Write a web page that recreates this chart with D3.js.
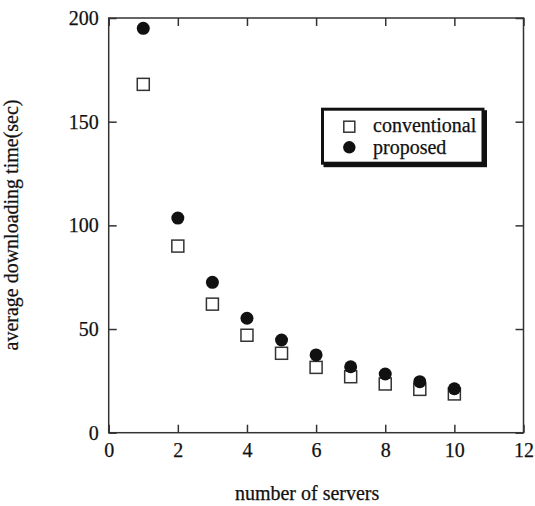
<!DOCTYPE html>
<html>
<head>
<meta charset="utf-8">
<script src="https://cdn.jsdelivr.net/npm/d3@7/dist/d3.min.js"></script>
<style>
  html, body { margin: 0; padding: 0; background: #fff; }
  svg { display: block; }
  text { font-family: "Liberation Serif", "Times New Roman", serif; fill: #111; stroke: #111; stroke-width: 0.25px; }
</style>
</head>
<body>
<script>
// Average downloading time versus number of servers
const servers = [1, 2, 3, 4, 5, 6, 7, 8, 9, 10];
const conventional = [168, 90, 62, 47, 38.3, 31.5, 27, 23.5, 20.9, 18.7];
const proposed = [195, 103.5, 72.5, 55.2, 44.7, 37.5, 31.8, 28.3, 24.6, 21.2];
const xTicks = [0, 2, 4, 6, 8, 10, 12];
const yTicks = [0, 50, 100, 150, 200];
const seriesNames = ["conventional", "proposed"];

const W = 535, H = 506;
const plot = { left: 108.7, right: 523.5, top: 18, bottom: 432.7 };

const svg = d3.select("body").append("svg").attr("width", W).attr("height", H);

const x = d3.scaleLinear().domain([0, 12]).range([plot.left, plot.right]);
const y = d3.scaleLinear().domain([0, 200]).range([plot.bottom, plot.top]);

const axisColor = "#333";
const tickLen = 8;

// Frame with inward ticks on all four sides
function styleAxis(g) {
  g.select(".domain").remove();
  g.selectAll(".tick line").attr("stroke", axisColor).attr("stroke-width", 1.5);
  g.selectAll(".tick text").style("font-size", "20px").attr("fill", "#111");
}

svg.append("g").attr("transform", `translate(0,${plot.bottom})`)
  .call(d3.axisBottom(x).tickValues(xTicks).tickFormat(d3.format("d")).tickSizeInner(-tickLen).tickSizeOuter(0).tickPadding(10))
  .call(styleAxis)
  .call(g => g.selectAll(".tick text").attr("dy", "0.71em"));

svg.append("g").attr("transform", `translate(0,${plot.top})`)
  .call(d3.axisTop(x).tickValues(xTicks).tickSizeInner(-tickLen).tickSizeOuter(0).tickFormat(""))
  .call(styleAxis);

svg.append("g").attr("transform", `translate(${plot.left},0)`)
  .call(d3.axisLeft(y).tickValues(yTicks).tickFormat(d3.format("d")).tickSizeInner(-tickLen).tickSizeOuter(0).tickPadding(10))
  .call(styleAxis);

svg.append("g").attr("transform", `translate(${plot.right},0)`)
  .call(d3.axisRight(y).tickValues(yTicks).tickSizeInner(-tickLen).tickSizeOuter(0).tickFormat(""))
  .call(styleAxis);

svg.append("rect")
  .attr("x", plot.left).attr("y", plot.top)
  .attr("width", plot.right - plot.left).attr("height", plot.bottom - plot.top)
  .attr("fill", "none").attr("stroke", axisColor).attr("stroke-width", 1.5);

// Axis titles
svg.append("text")
  .attr("x", (plot.left + plot.right) / 2 - 9).attr("y", 500)
  .attr("text-anchor", "middle").style("font-size", "20px")
  .text("number of servers");

svg.append("text")
  .attr("transform", `translate(18,225) rotate(-90)`)
  .attr("text-anchor", "middle").style("font-size", "20px")
  .text("average downloading time(sec)");

// Markers
const sq = 12, r = 6.5;
const data = servers.map((s, i) => ({ s, c: conventional[i], p: proposed[i] }));

svg.append("g").selectAll("rect").data(data).join("rect")
  .attr("x", d => x(d.s) - sq / 2).attr("y", d => y(d.c) - sq / 2)
  .attr("width", sq).attr("height", sq)
  .attr("fill", "#fff").attr("stroke", "#333").attr("stroke-width", 1.5);

svg.append("g").selectAll("circle").data(data).join("circle")
  .attr("cx", d => x(d.s)).attr("cy", d => y(d.p)).attr("r", r)
  .attr("fill", "#111");

// Legend box with drop shadow
const lg = svg.append("g");
const box = { x: 322.5, y: 109.2, w: 160.5, h: 54 };
lg.append("rect").attr("x", box.x + 2.5).attr("y", box.y + 2.5).attr("width", box.w).attr("height", box.h)
  .attr("fill", "#111").attr("stroke", "#111").attr("stroke-width", 3);
lg.append("rect").attr("x", box.x).attr("y", box.y).attr("width", box.w).attr("height", box.h)
  .attr("fill", "#fff").attr("stroke", "#111").attr("stroke-width", 3);

lg.append("rect").attr("x", 349.3 - 5.5).attr("y", 126.7 - 5.5).attr("width", 11).attr("height", 11)
  .attr("fill", "#fff").attr("stroke", "#333").attr("stroke-width", 1.5);
lg.append("circle").attr("cx", 349.3).attr("cy", 147.3).attr("r", 6.2).attr("fill", "#111");

lg.selectAll("text.lbl").data(seriesNames).join("text")
  .attr("class", "lbl")
  .attr("x", 373).attr("y", (d, i) => i === 0 ? 132 : 154)
  .style("font-size", "20px")
  .text(d => d);
</script>
</body>
</html>
